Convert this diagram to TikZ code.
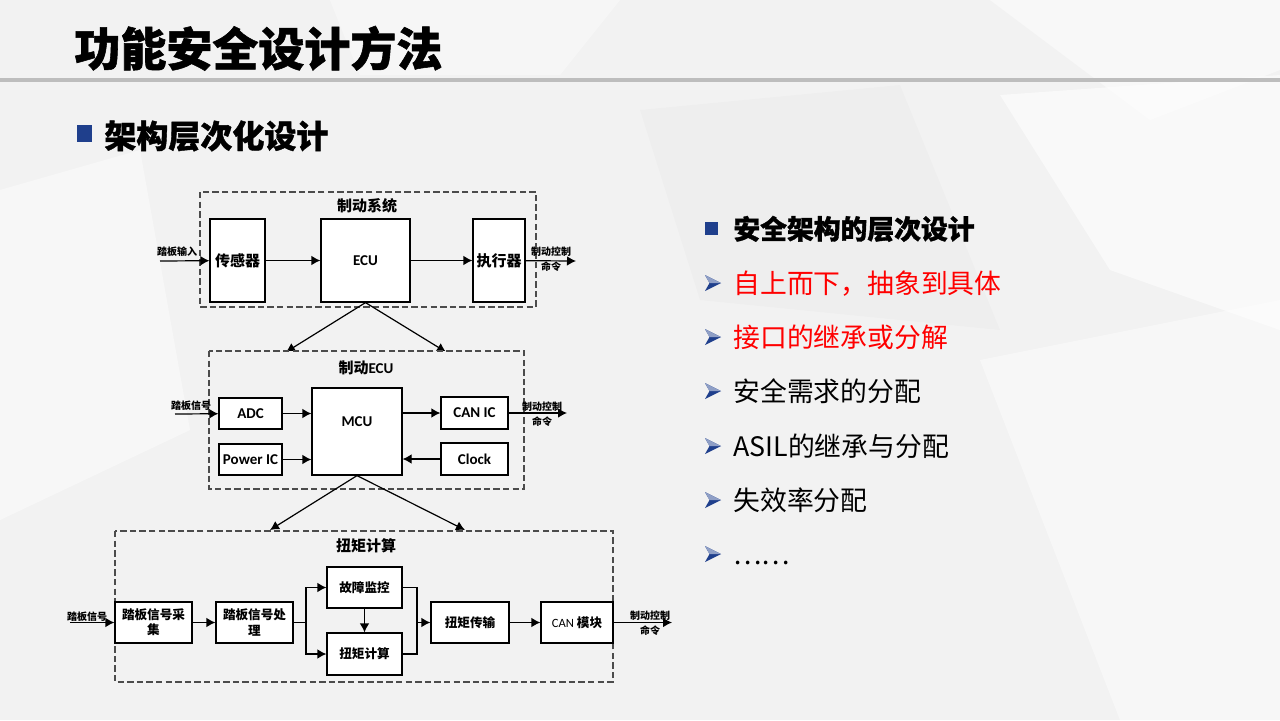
\documentclass[tikz,border=0pt]{standalone}
\usepackage{fontspec}
\setmainfont{Noto Sans CJK SC}
\newfontfamily\heavy{Noto Sans CJK SC}[BoldFeatures={FakeBold=1.2}]
\newfontfamily\lat{Carlito}
\usetikzlibrary{arrows.meta}
\definecolor{bggray}{HTML}{F2F2F2}
\definecolor{navy}{RGB}{31,63,140}
\definecolor{rulegray}{HTML}{BDBDBD}
\definecolor{hired}{HTML}{FF0000}
\tikzset{
  grp/.style={draw=black!70, dash pattern=on 3.2pt off 1.6pt, line width=0.6pt, fill=black!5},
  blk/.style={draw, fill=white, line width=0.6pt, inner sep=0.5pt, align=center,
              font=\bfseries\fontsize{7.5}{8.5}\selectfont},
  sblk/.style={blk, font=\bfseries\fontsize{6.3}{7.6}\selectfont},
  tag/.style={font=\bfseries\fontsize{5}{7.2}\selectfont, align=center, inner sep=0pt},
  gtitle/.style={font=\bfseries\fontsize{7.5}{8.5}\selectfont, inner sep=0pt},
  arr/.style={-{Latex[length=4.5pt,width=4.8pt]}, line width=0.6pt},
  lst/.style={anchor=base west, inner sep=0pt, font=\fontsize{13.4}{15}\selectfont},
  bul/.pic={\fill[navy] (0,-8) -- (16,0) -- (0,8) -- (4.5,0) -- cycle;
            \fill[navy!50] (0,-8) -- (16,0) -- (4.5,0) -- cycle;}
}
\begin{document}
\begin{tikzpicture}[x=0.5pt,y=-0.5pt]
   % page and background
   \useasboundingbox (0,0) rectangle (1280,720);
   \fill[bggray] (0,0) rectangle (1280,720);
   \fill[white,opacity=0.5] (990,0) -- (1280,0) -- (1280,70) -- (1150,120) -- cycle;
   \fill[white,opacity=0.55] (1000,95) -- (1280,75) -- (1280,330) -- (1110,270) -- cycle;
   \fill[black,opacity=0.015] (640,110) -- (900,85) -- (1000,330) -- (700,300) -- cycle;
   \fill[white,opacity=0.45] (980,360) -- (1280,300) -- (1280,720) -- (1120,720) -- cycle;
   \fill[white,opacity=0.45] (0,190) -- (140,150) -- (190,430) -- (0,520) -- cycle;
   \fill[white,opacity=0.35] (330,0) -- (620,0) -- (560,75) -- (360,75) -- cycle;
   \fill[rulegray] (0,78) rectangle (1280,82);

   % titles
   \node[anchor=base west, inner sep=0pt, font=\heavy\bfseries\fontsize{23}{26}\selectfont] (title) at (74,66) {功能安全设计方法};
   \fill[navy] (77,125) rectangle (92,142);
   \node[anchor=base west, inner sep=0pt, font=\heavy\bfseries\fontsize{16}{18}\selectfont] (sub) at (104,148) {架构层次化设计};

   % level 1: braking system
   \draw[grp] (200,192) rectangle (536,307);
   \node[gtitle] (t1) at (367,206) {制动系统};
   \node[blk, minimum width=27.5pt, minimum height=41.5pt] (sens) at (237.5,260.5) {传感器};
   \node[blk, minimum width=44.5pt, minimum height=41.5pt] (ecu)  at (365.5,260.5) {\lat ECU};
   \node[blk, minimum width=26pt,   minimum height=41.5pt] (act)  at (499,260.5) {执行器};
   \coordinate (in1) at (160,261);
   \coordinate (out1) at (576,261);
   \node[tag] (l1a) at (177,252) {踏板输入};
   \node[tag] (l1b) at (551,259) {制动控制\\命令};
   \draw[arr] (in1) -- (sens);
   \draw[arr] (sens) -- (ecu);
   \draw[arr] (ecu) -- (act);
   \draw[arr] (act) -- (out1);
   \coordinate (d1a) at (286,352);
   \coordinate (d1b) at (446,352);
   \draw[arr] (ecu.south) -- (d1a);
   \draw[arr] (ecu.south) -- (d1b);

   % level 2: brake ECU
   \draw[grp] (209,351) rectangle (524,489);
   \node[gtitle] (t2) at (366,368) {制动{\lat ECU}};
   \node[blk, minimum width=31.5pt, minimum height=15.5pt] (adc) at (250.5,413.5) {\lat ADC};
   \node[blk, minimum width=31.5pt, minimum height=15.5pt] (pwr) at (250.5,459.5) {\lat Power IC};
   \node[blk, minimum width=45pt,   minimum height=43.5pt, text depth=9.5pt] (mcu) at (357,431.5) {\lat MCU};
   \node[blk, minimum width=33.5pt, minimum height=16pt]   (canic) at (474.5,413) {\lat CAN IC};
   \node[blk, minimum width=33.5pt, minimum height=16pt]   (clk) at (474.5,459) {\lat Clock};
   \coordinate (in2) at (175,414);
   \coordinate (out2) at (567,413);
   \node[tag] (l2a) at (191,406) {踏板信号};
   \node[tag] (l2b) at (542,414) {制动控制\\命令};
   \draw[arr] (in2) -- (adc);
   \draw[arr] (adc) -- (adc -| mcu.west);
   \draw[arr] (pwr) -- (pwr -| mcu.west);
   \draw[arr] (mcu.east |- canic) -- (canic);
   \draw[arr] (clk) -- (clk -| mcu.east);
   \draw[arr] (canic) -- (out2);
   \coordinate (d2a) at (270,530);
   \coordinate (d2b) at (465,530);
   \draw[arr] (mcu.south) -- (d2a);
   \draw[arr] (mcu.south) -- (d2b);

   % level 3: torque calculation
   \draw[grp] (115,531) rectangle (613,682);
   \node[gtitle] (t3) at (366,546) {扭矩计算};
   \node[sblk, minimum width=38.5pt, minimum height=20.5pt] (acq)  at (153.5,622.5) {踏板信号采\\集};
   \node[sblk, minimum width=38.5pt, minimum height=20.5pt] (proc) at (254.5,622.5) {踏板信号处\\理};
   \node[sblk, minimum width=37.5pt, minimum height=20.5pt] (mon)  at (364.5,587.5) {故障监控};
   \node[sblk, minimum width=37.5pt, minimum height=21pt]   (calc) at (364.5,654) {扭矩计算};
   \node[sblk, minimum width=39pt,   minimum height=20.5pt] (xfer) at (470,622.5) {扭矩传输};
   \node[sblk, minimum width=36pt,   minimum height=20.5pt] (canm) at (577,622.5) {{\lat\mdseries CAN} 模块};
   \coordinate (in3) at (70,622.5);
   \coordinate (out3) at (672,622.5);
   \coordinate (sp) at (306,622.5);
   \coordinate (jn) at (417,622.5);
   \node[tag] (l3a) at (87,617) {踏板信号};
   \node[tag] (l3b) at (650,623) {制动控制\\命令};
   \draw[arr] (in3) -- (acq);
   \draw[arr] (acq) -- (proc);
   \draw[line width=0.6pt] (proc) -- (sp);
   \draw[arr] (sp) |- (mon);
   \draw[arr] (sp) |- (calc);
   \draw[arr] (mon) -- (calc);
   \draw[line width=0.6pt] (mon) -| (jn);
   \draw[line width=0.6pt] (calc) -| (jn);
   \draw[arr] (jn) -- (xfer);
   \draw[arr] (xfer) -- (canm);
   \draw[arr] (canm) -- (out3);

   % right-hand list
   \fill[navy] (705,222) rectangle (718,235);
   \node[lst, font=\heavy\bfseries\fontsize{13.4}{15}\selectfont] (h0) at (733,239) {安全架构的层次设计};
   \foreach \y in {283,337,391,446,500,554} \pic at (705,\y) {bul};
   \node[lst, text=hired] (i1) at (733,293) {自上而下，抽象到具体};
   \node[lst, text=hired] (i2) at (733,347) {接口的继承或分解};
   \node[lst] (i3) at (733,401) {安全需求的分配};
   \node[lst] (i4) at (733,456) {ASIL的继承与分配};
   \node[lst] (i5) at (733,510) {失效率分配};
   \node[lst] (i6) at (733,564) {……};
\end{tikzpicture}
\end{document}
